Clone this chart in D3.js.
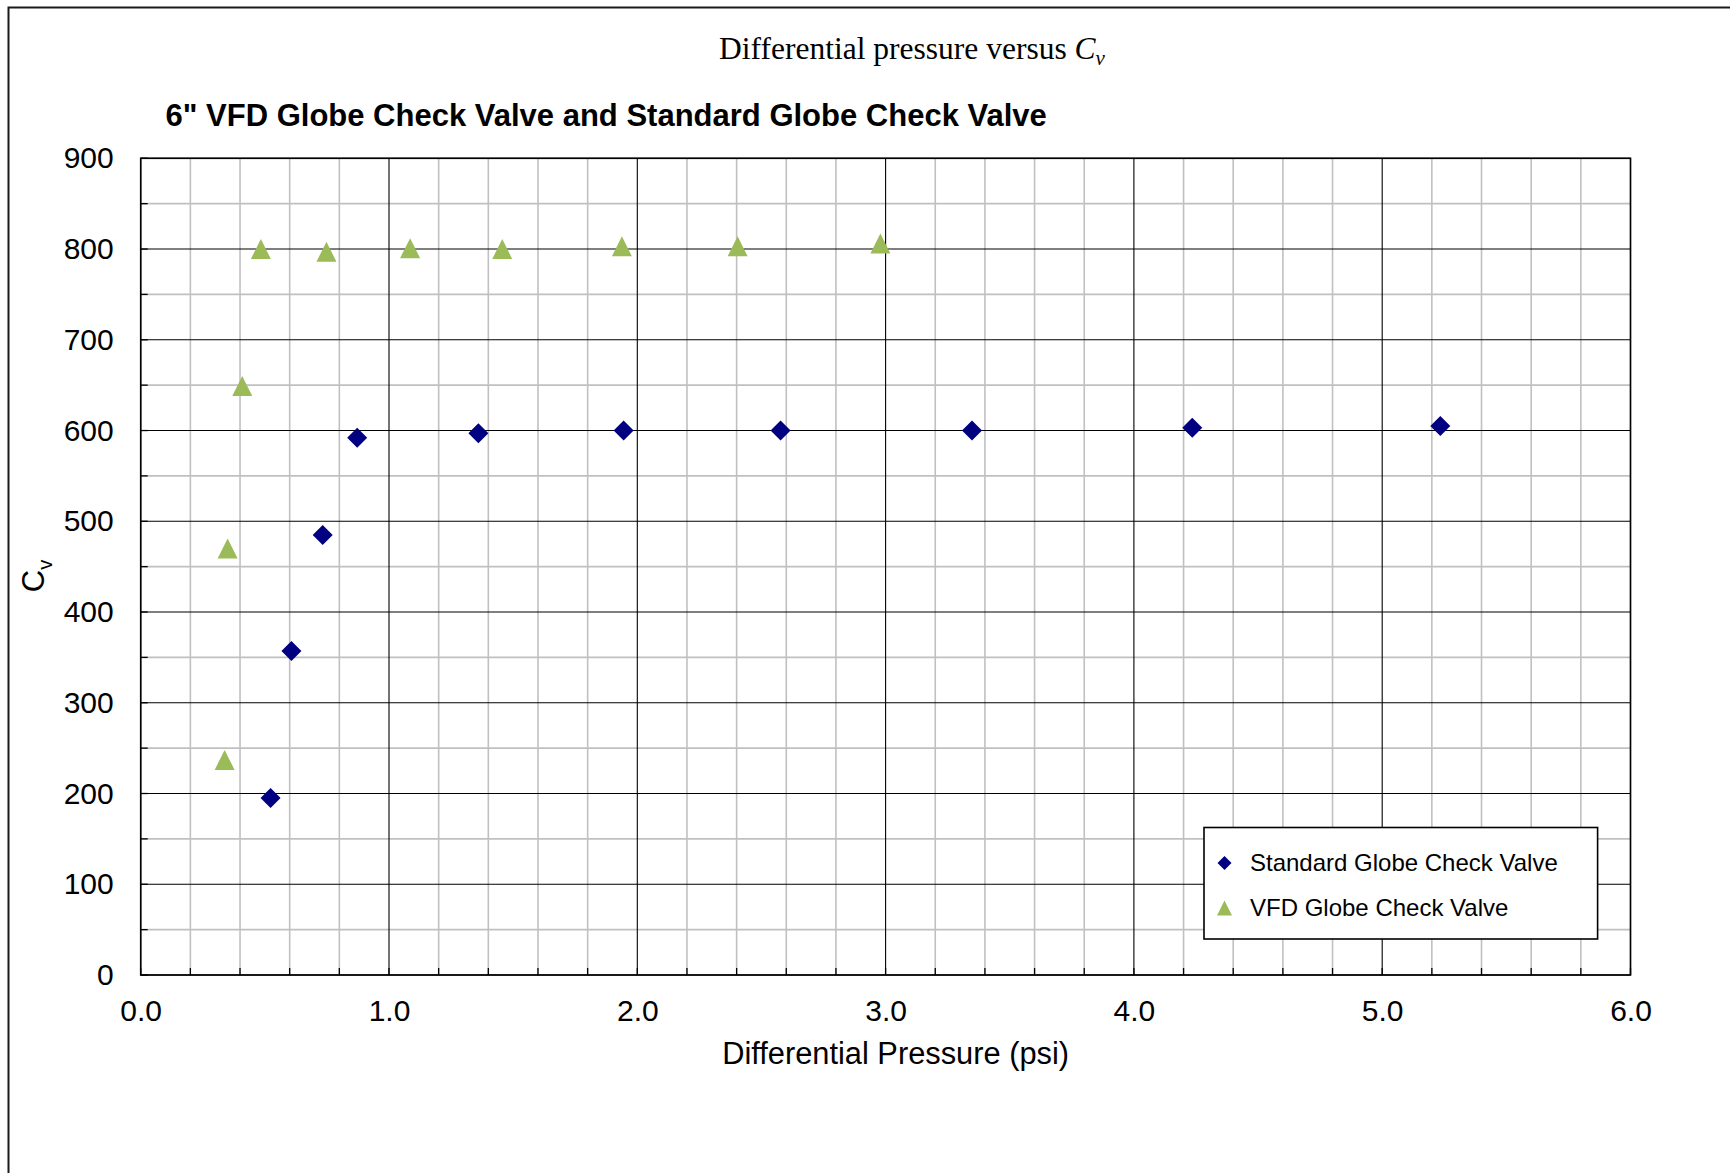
<!DOCTYPE html>
<html>
<head>
<meta charset="utf-8">
<script src="https://cdn.jsdelivr.net/npm/d3@7"></script>
<style>
  body { margin: 0; background: #fff; }
  svg { display: block; }
</style>
</head>
<body>
<div id="chart"></div>
<script>
// data
var stdX = [0.523, 0.607, 0.733, 0.872, 1.360, 1.945, 2.577, 3.348, 4.235, 5.234];
var stdY = [195, 357, 485, 592, 597, 600, 600, 600, 603, 605];
var vfdX = [0.338, 0.350, 0.409, 0.484, 0.748, 1.085, 1.456, 1.938, 2.404, 2.979];
var vfdY = [237, 470, 649, 800, 797, 801, 800, 803, 803, 806];

var xTicks = [0, 1, 2, 3, 4, 5, 6];
var yTicks = [0, 100, 200, 300, 400, 500, 600, 700, 800, 900];
var xMinor = [0.2, 0.4, 0.6, 0.8, 1.2, 1.4, 1.6, 1.8, 2.2, 2.4, 2.6, 2.8, 3.2, 3.4, 3.6, 3.8, 4.2, 4.4, 4.6, 4.8, 5.2, 5.4, 5.6, 5.8];
var yMinor = [50, 150, 250, 350, 450, 550, 650, 750, 850];

var seriesNames = ["Standard Globe Check Valve", "VFD Globe Check Valve"];

function paint() {
    var width = 1730, height = 1173;
    var margin = { top: 158.3, right: 99.5, bottom: 198, left: 140.7 };
    var pw = width - margin.left - margin.right,
        ph = height - margin.top - margin.bottom;

    var svg = d3.select("#chart")
        .append("svg")
        .attr("width", width)
        .attr("height", height);

    // outer chart frame (runs off the right and bottom of the picture)
    svg.append("rect")
        .attr("x", 8.5).attr("y", 7.5)
        .attr("width", 3000).attr("height", 3000)
        .attr("fill", "none")
        .attr("stroke", "#1a1a1a")
        .attr("stroke-width", 2);

    var x = d3.scaleLinear().domain([0, 6]).range([margin.left, margin.left + pw]);
    var y = d3.scaleLinear().domain([0, 900]).range([margin.top + ph, margin.top]);

    // minor grid
    svg.append("g").selectAll("line").data(xMinor).enter().append("line")
        .attr("x1", function (d) { return x(d); }).attr("x2", function (d) { return x(d); })
        .attr("y1", y(0)).attr("y2", y(900))
        .attr("stroke", "#c0c0c0").attr("stroke-width", 1.6);
    svg.append("g").selectAll("line").data(yMinor).enter().append("line")
        .attr("y1", function (d) { return y(d); }).attr("y2", function (d) { return y(d); })
        .attr("x1", x(0)).attr("x2", x(6))
        .attr("stroke", "#c0c0c0").attr("stroke-width", 1.6);

    // major grid
    svg.append("g").selectAll("line").data(xTicks).enter().append("line")
        .attr("x1", function (d) { return x(d); }).attr("x2", function (d) { return x(d); })
        .attr("y1", y(0)).attr("y2", y(900))
        .attr("stroke", "#000").attr("stroke-width", 1.1);
    svg.append("g").selectAll("line").data(yTicks).enter().append("line")
        .attr("y1", function (d) { return y(d); }).attr("y2", function (d) { return y(d); })
        .attr("x1", x(0)).attr("x2", x(6))
        .attr("stroke", "#000").attr("stroke-width", 1.1);

    // inside tick marks
    svg.append("g").selectAll("line").data(xMinor.concat(xTicks)).enter().append("line")
        .attr("x1", function (d) { return x(d); }).attr("x2", function (d) { return x(d); })
        .attr("y1", y(0)).attr("y2", y(0) - 7)
        .attr("stroke", "#000").attr("stroke-width", 1.3);
    svg.append("g").selectAll("line").data(yMinor.concat(yTicks)).enter().append("line")
        .attr("y1", function (d) { return y(d); }).attr("y2", function (d) { return y(d); })
        .attr("x1", x(0)).attr("x2", x(0) + 7)
        .attr("stroke", "#000").attr("stroke-width", 1.3);

    // plot border
    svg.append("rect")
        .attr("x", x(0)).attr("y", y(900))
        .attr("width", x(6) - x(0)).attr("height", y(0) - y(900))
        .attr("fill", "none").attr("stroke", "#000").attr("stroke-width", 1.6);

    // tick labels through the axis generators
    var xAxis = svg.append("g")
        .attr("transform", "translate(0," + y(0) + ")")
        .call(d3.axisBottom(x).tickValues(xTicks).tickFormat(d3.format(".1f")).tickSize(0).tickPadding(25));
    var yAxis = svg.append("g")
        .attr("transform", "translate(" + x(0) + ",0)")
        .call(d3.axisLeft(y).tickValues(yTicks).tickSize(0).tickPadding(27));
    [xAxis, yAxis].forEach(function (a) {
        a.select(".domain").remove();
        a.selectAll("text")
            .attr("font-family", "'Liberation Sans', Arial, sans-serif")
            .attr("font-size", 30)
            .attr("fill", "#000");
    });

    // titles
    var title = svg.append("text")
        .attr("x", 912).attr("y", 59)
        .attr("text-anchor", "middle")
        .attr("font-family", "'Liberation Serif', 'Times New Roman', serif")
        .attr("font-size", 31.5)
        .attr("fill", "#000");
    title.append("tspan").text("Differential pressure versus ");
    title.append("tspan").attr("font-style", "italic").text("C");
    title.append("tspan").attr("font-style", "italic").attr("font-size", 21).attr("dy", 6).text("v");

    svg.append("text")
        .attr("x", 165.5).attr("y", 126)
        .attr("font-family", "'Liberation Sans', Arial, sans-serif")
        .attr("font-weight", "bold")
        .attr("font-size", 31)
        .attr("fill", "#000")
        .text("6\" VFD Globe Check Valve and Standard Globe Check Valve");

    svg.append("text")
        .attr("x", (x(0) + x(6)) / 2 + 10).attr("y", 1064)
        .attr("text-anchor", "middle")
        .attr("font-family", "'Liberation Sans', Arial, sans-serif")
        .attr("font-size", 30.8)
        .attr("fill", "#000")
        .text("Differential Pressure (psi)");

    var yLabel = svg.append("text")
        .attr("transform", "translate(44,576) rotate(-90)")
        .attr("text-anchor", "middle")
        .attr("font-family", "'Liberation Sans', Arial, sans-serif")
        .attr("font-size", 31)
        .attr("fill", "#000");
    yLabel.append("tspan").text("C");
    yLabel.append("tspan").attr("font-size", 20).attr("dy", 8).text("v");

    // marker shapes
    var diamondType = {
        draw: function (ctx, size) {
            var r = Math.sqrt(size) / 2;
            ctx.moveTo(0, -r); ctx.lineTo(r, 0); ctx.lineTo(0, r); ctx.lineTo(-r, 0); ctx.closePath();
        }
    };
    var triangleType = {
        draw: function (ctx, size) {
            var s = Math.sqrt(size) / 2;
            ctx.moveTo(0, -s); ctx.lineTo(s, s); ctx.lineTo(-s, s); ctx.closePath();
        }
    };

    var stdData = stdX.map(function (v, i) { return { x: v, y: stdY[i] }; });
    var vfdData = vfdX.map(function (v, i) { return { x: v, y: vfdY[i] }; });

    svg.append("g").selectAll("path").data(vfdData).enter().append("path")
        .attr("d", d3.symbol().type(triangleType).size(20 * 20))
        .attr("transform", function (d) { return "translate(" + x(d.x) + "," + y(d.y) + ")"; })
        .attr("fill", "#9bbb59");

    svg.append("g").selectAll("path").data(stdData).enter().append("path")
        .attr("d", d3.symbol().type(diamondType).size(20 * 20))
        .attr("transform", function (d) { return "translate(" + x(d.x) + "," + y(d.y) + ")"; })
        .attr("fill", "#000080");

    // legend
    var legend = svg.append("g").attr("transform", "translate(1204,827.5)");
    legend.append("rect")
        .attr("width", 393.6).attr("height", 111.5)
        .attr("fill", "#fff").attr("stroke", "#000").attr("stroke-width", 1.6);
    var items = [
        { name: seriesNames[0], type: diamondType, color: "#000080", size: 14 },
        { name: seriesNames[1], type: triangleType, color: "#9bbb59", size: 15 }
    ];
    var rows = legend.selectAll(".item").data(items).enter().append("g")
        .attr("transform", function (d, i) { return "translate(0," + (35.5 + i * 45) + ")"; });
    rows.append("path")
        .attr("d", function (d) { return d3.symbol().type(d.type).size(d.size * d.size)(); })
        .attr("transform", "translate(20.5,0)")
        .attr("fill", function (d) { return d.color; });
    rows.append("text")
        .attr("x", 46).attr("dy", "0.35em")
        .attr("font-family", "'Liberation Sans', Arial, sans-serif")
        .attr("font-size", 24)
        .attr("fill", "#000")
        .text(function (d) { return d.name; });
}

paint();
</script>
</body>
</html>
